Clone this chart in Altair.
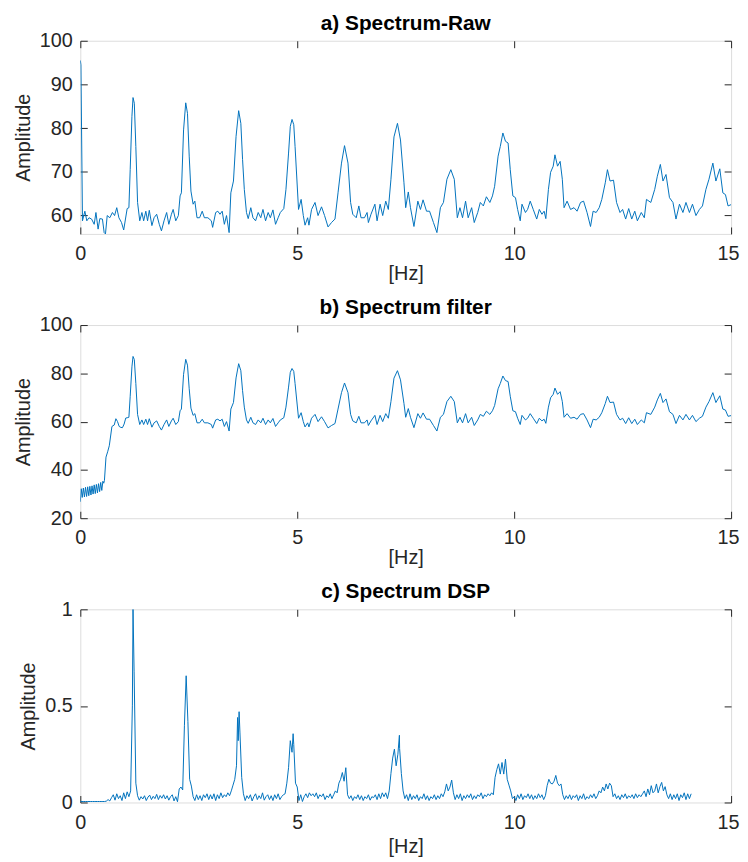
import altair as alt
import pandas as pd

# ---------------- data ----------------
# a) raw spectrum (Hz, amplitude)
freq_raw = [
    0.0, 0.014, 0.05, 0.105, 0.15, 0.2, 0.26, 0.32, 0.36, 0.41,
    0.45, 0.51, 0.55, 0.58, 0.62, 0.68, 0.74, 0.79, 0.84, 0.89,
    0.95, 1.0, 1.08, 1.12, 1.15, 1.19, 1.215, 1.245, 1.28, 1.32,
    1.37, 1.42, 1.46, 1.51, 1.55, 1.59, 1.65, 1.7, 1.76, 1.82,
    1.87, 1.93, 1.99, 2.04, 2.1, 2.14, 2.2, 2.26, 2.3, 2.33,
    2.38, 2.43, 2.47, 2.51, 2.55, 2.6, 2.64, 2.69, 2.75, 2.81,
    2.86, 2.94, 3.02, 3.05, 3.12, 3.17, 3.22, 3.27, 3.32, 3.37,
    3.43, 3.47, 3.53, 3.59, 3.65, 3.7, 3.74, 3.78, 3.83, 3.87,
    3.93, 3.98, 4.04, 4.1, 4.16, 4.21, 4.27, 4.33, 4.38, 4.44,
    4.5, 4.56, 4.61, 4.69, 4.74, 4.8, 4.84, 4.88, 4.92, 4.95,
    5.03, 5.09, 5.14, 5.18, 5.24, 5.27, 5.33, 5.41, 5.48, 5.56,
    5.63, 5.71, 5.79, 5.87, 5.94, 6.02, 6.09, 6.17, 6.23, 6.28,
    6.36, 6.42, 6.47, 6.55, 6.61, 6.64, 6.7, 6.79, 6.84, 6.91,
    6.97, 7.04, 7.1, 7.16, 7.23, 7.31, 7.38, 7.46, 7.5, 7.56,
    7.61, 7.69, 7.78, 7.84, 7.9, 7.98, 8.05, 8.14, 8.22, 8.3,
    8.37, 8.45, 8.54, 8.62, 8.69, 8.75, 8.81, 8.88, 8.94, 9.02,
    9.08, 9.16, 9.22, 9.29, 9.36, 9.44, 9.5, 9.55, 9.63, 9.68,
    9.74, 9.8, 9.86, 9.91, 9.97, 10.03, 10.08, 10.14, 10.18, 10.26,
    10.31, 10.37, 10.44, 10.52, 10.58, 10.64, 10.69, 10.73, 10.79, 10.84,
    10.9, 10.94, 11.0, 11.06, 11.11, 11.15, 11.22, 11.3, 11.38, 11.45,
    11.53, 11.6, 11.68, 11.76, 11.82, 11.89, 11.96, 12.02, 12.1, 12.15,
    12.21, 12.29, 12.36, 12.44, 12.5, 12.57, 12.64, 12.71, 12.78, 12.84,
    12.93, 13.0, 13.05, 13.15, 13.24, 13.3, 13.37, 13.43, 13.5, 13.58,
    13.66, 13.73, 13.81, 13.89, 13.96, 14.04, 14.11, 14.19, 14.27, 14.34,
    14.42, 14.49, 14.58, 14.65, 14.74, 14.81, 14.87, 14.93, 15.0,
]
amp_raw = [
    95.5, 94.5, 58.8, 61.0, 58.8, 59.5, 59.2, 58.0, 60.7, 56.9,
    59.3, 59.2, 56.1, 55.8, 60.0, 59.5, 60.7, 60.0, 61.8, 59.5,
    58.4, 56.7, 61.6, 61.8, 70.5, 82.7, 87.0, 85.7, 75.8, 63.0,
    58.8, 60.7, 58.8, 61.0, 58.8, 61.2, 57.7, 59.5, 60.3, 58.0,
    56.5, 58.8, 60.7, 58.0, 60.3, 61.4, 58.8, 60.0, 64.5, 65.2,
    79.6, 85.8, 83.4, 73.6, 65.6, 62.6, 63.3, 59.5, 59.5, 61.0,
    59.5, 59.5, 58.8, 57.3, 60.7, 61.0, 60.3, 61.0, 58.0, 60.0,
    56.1, 65.2, 67.9, 78.1, 84.0, 81.1, 72.8, 66.0, 60.7, 59.3,
    61.8, 59.5, 58.8, 60.7, 59.5, 61.4, 58.8, 60.7, 59.5, 61.3,
    58.0, 59.5, 60.7, 61.6, 66.0, 74.3, 80.4, 82.0, 80.8, 75.8,
    61.4, 63.7, 60.0, 57.8, 59.5, 57.8, 61.4, 63.0, 60.0, 62.0,
    60.0, 57.4, 58.4, 59.2, 65.2, 72.0, 76.0, 72.0, 63.0, 60.3,
    59.5, 62.2, 59.5, 59.5, 60.7, 58.4, 60.3, 62.6, 58.8, 62.6,
    60.0, 63.3, 61.4, 68.3, 78.0, 81.1, 77.3, 67.5, 61.8, 65.4,
    61.8, 57.5, 63.3, 61.4, 63.6, 61.0, 61.0, 58.4, 56.1, 61.8,
    63.0, 68.3, 70.5, 68.3, 59.5, 61.8, 59.5, 63.3, 59.5, 61.8,
    58.4, 60.7, 63.0, 62.2, 64.3, 63.0, 64.5, 66.7, 73.6, 75.8,
    78.9, 77.0, 76.6, 70.5, 64.5, 64.1, 61.4, 58.8, 62.6, 60.7,
    61.4, 63.3, 61.4, 59.2, 61.4, 60.3, 61.0, 59.3, 66.0, 69.9,
    71.3, 73.9, 71.3, 72.4, 68.3, 61.8, 63.3, 61.4, 61.8, 61.0,
    63.0, 63.3, 60.7, 57.5, 61.0, 60.7, 61.8, 63.7, 67.5, 70.5,
    67.9, 68.1, 63.0, 60.7, 61.4, 59.2, 61.6, 59.2, 61.0, 58.8,
    60.7, 59.5, 63.7, 63.0, 66.0, 69.0, 71.7, 67.9, 69.4, 64.1,
    63.0, 59.2, 62.6, 60.7, 63.0, 60.7, 62.6, 60.0, 61.4, 62.2,
    66.0, 68.3, 72.0, 67.9, 70.7, 65.2, 64.8, 62.2, 62.5,
]

# b) filtered spectrum: low-frequency part differs, above ~1.05 Hz it follows the raw one
freq_filt_low = [
    0.0, 0.022, 0.045, 0.07, 0.095, 0.12, 0.145, 0.17, 0.195, 0.22,
    0.245, 0.27, 0.295, 0.32, 0.345, 0.37, 0.395, 0.42, 0.445, 0.47,
    0.495, 0.52, 0.54, 0.556, 0.592, 0.63, 0.668, 0.729, 0.782, 0.82,
    0.858, 0.896, 0.935, 0.972, 1.01, 1.048,
]
amp_filt_low = [
    26.8, 32.2, 28.6, 32.5, 28.8, 32.8, 29.0, 33.0, 29.3, 33.2,
    29.6, 33.4, 30.0, 33.8, 30.2, 34.0, 30.5, 34.3, 31.0, 34.8,
    31.5, 35.3, 34.5, 35.6, 45.3, 47.5, 50.0, 58.0, 58.6, 61.2,
    60.0, 58.0, 57.6, 57.5, 59.0, 61.5,
]

# c) DSP spectrum, bins every 0.04 Hz from 0 to 14.08 Hz (one row per Hz)
dsp_bin = 0.04
amp_dsp = [
    .005, .005, .005, .005, .005, .005, .005, .005, .005, .005, .005, .005, .005, .005, .005, .007, .015, .008, .025, .04, .012, .045, .02, .035, .01,
    .05, .02, .055, .03, .06, .5, .68, .1, .035, .012, .03, .018, .035, .01, .028, .038, .015, .032, .02, .042, .015, .036, .022, .04, .018,
    .035, .012, .03, .04, .008, .03, .004, .07, .08, .065, .4, .656, .42, .12, .085, .03, .01, .04, .015, .035, .01, .04, .025, .045, .015,
    .04, .018, .045, .01, .04, .02, .05, .025, .04, .03, .05, .035, .06, .09, .12, .19, .32, .36, .13, .045, .01, .035, .02, .04, .008,
    .03, .045, .015, .035, .02, .05, .012, .03, .04, .015, .035, .01, .04, .02, .045, .015, .03, .04, .045, .1, .18, .32, .26, .3, .1,
    .08, .01, .04, .005, .03, .045, .025, .05, .035, .045, .03, .05, .02, .04, .03, .045, .015, .035, .025, .045, .02, .04, .06, .05, .1,
    .12, .155, .11, .18, .04, .02, .035, .01, .03, .02, .04, .015, .035, .01, .03, .02, .04, .012, .03, .025, .04, .015, .045, .02, .05,
    .03, .05, .02, .06, .15, .23, .276, .19, .25, .28, .15, .06, .02, .04, .01, .045, .015, .035, .02, .04, .01, .03, .02, .045, .015,
    .035, .01, .03, .02, .04, .015, .035, .02, .045, .03, .055, .096, .06, .08, .116, .05, .015, .04, .02, .045, .01, .035, .02, .04, .025,
    .045, .015, .035, .02, .04, .03, .05, .02, .04, .03, .045, .035, .05, .04, .13, .17, .2, .147, .207, .147, .224, .12, .09, .06, .02,
    .03, .01, .04, .02, .045, .015, .035, .025, .045, .02, .04, .015, .035, .02, .045, .025, .04, .015, .035, .087, .12, .1, .096, .11, .14,
    .1, .087, .096, .04, .015, .035, .02, .04, .015, .035, .025, .04, .01, .035, .02, .045, .015, .03, .02, .04, .025, .045, .02, .035, .06,
    .05, .08, .06, .096, .07, .1, .087, .03, .045, .02, .035, .015, .04, .025, .045, .02, .035, .025, .04, .02, .045, .025, .04, .03, .045,
    .06, .03, .07, .04, .087, .05, .06, .096, .05, .082, .104, .06, .082, .04, .02, .045, .015, .04, .02, .045, .01, .04, .025, .05, .015,
    .045, .02, .045,
]
# peak tops that fall between bins
freq_dsp_extra = [1.215, 3.625, 3.66, 4.905, 7.355]
amp_dsp_extra = [1.0, 0.44, 0.47, 0.356, 0.348]

x_ticks = [0, 5, 10, 15]
y_ticks_a = [60, 70, 80, 90, 100]
y_ticks_b = [20, 40, 60, 80, 100]
y_ticks_c = [0, 0.5, 1]
titles = ["a) Spectrum-Raw", "b) Spectrum filter", "c) Spectrum DSP"]

# ---------------- tables ----------------
df_a = pd.DataFrame({"f": freq_raw, "a": amp_raw})
df_b = pd.concat([
    pd.DataFrame({"f": freq_filt_low, "a": amp_filt_low}),
    df_a[df_a["f"] > 1.05],
], ignore_index=True)
df_c = pd.concat([
    pd.DataFrame({"f": [round(i * dsp_bin, 3) for i in range(len(amp_dsp))], "a": amp_dsp}),
    pd.DataFrame({"f": freq_dsp_extra, "a": amp_dsp_extra}),
]).sort_values("f").reset_index(drop=True)

FONT = "Liberation Sans"
INK = "#262626"
BLUE = "#0072BD"
TICK = alt.ExprRef(expr="-7")


def panel(df, ydomain, yticks, yfmt, title, xtitle_pad):
    common = dict(
        grid=False, domain=False, tickColor=INK, tickWidth=1, tickSize=TICK,
        labelFont=FONT, labelFontSize=20, labelColor=INK,
        titleFont=FONT, titleFontSize=20, titleColor=INK, titleFontWeight="normal",
        minExtent=0,
    )
    xs = alt.Scale(domain=[0, 15], nice=False, zero=False)
    ys = alt.Scale(domain=ydomain, nice=False, zero=False)
    line = alt.Chart(df).mark_line(color=BLUE, strokeWidth=1, clip=True).encode(
        x=alt.X("f:Q", scale=xs, axis=alt.Axis(
            values=x_ticks, title="[Hz]", format="d", labelFlush=False,
            labelOffset={"condition": {"test": "datum.value == 15", "value": -3}, "value": 0},
            labelPadding=17, titlePadding=xtitle_pad, **common)),
        y=alt.Y("a:Q", scale=ys, axis=alt.Axis(values=yticks, title="Amplitude", format=yfmt,
                                                labelPadding=15, titlePadding=6, **common)),
        order="f:Q",
    )
    mirror = alt.Chart(df).mark_line(opacity=0).encode(
        x=alt.X("f:Q", scale=xs, axis=alt.Axis(orient="top", values=x_ticks, labels=False,
                                                title=None, maxExtent=0, **common)),
        y=alt.Y("a:Q", scale=ys, axis=alt.Axis(orient="right", values=yticks, labels=False,
                                                title=None, maxExtent=0, **common)),
    )
    return alt.layer(line, mirror).resolve_axis(x="independent", y="independent").properties(
        width=657, height=195,
        title=alt.TitleParams(title, font=FONT, fontSize=21, fontWeight="bold", color="#000000",
                              anchor="middle", offset=-3),
    )


chart = alt.vconcat(
    panel(df_a, [55.8, 100], y_ticks_a, "d", titles[0], 0),
    panel(df_b, [20, 100], y_ticks_b, "d", titles[1], 0),
    panel(df_c, [0, 1], y_ticks_c, ".1~f", titles[2], 4),
    spacing=12,
).properties(
    padding={"left": 5, "right": 0, "top": 0, "bottom": 0},
).configure_view(stroke=INK, strokeWidth=1).configure(background="white")

chart.save("out.html", embed_options={"renderer": "svg", "actions": False})
